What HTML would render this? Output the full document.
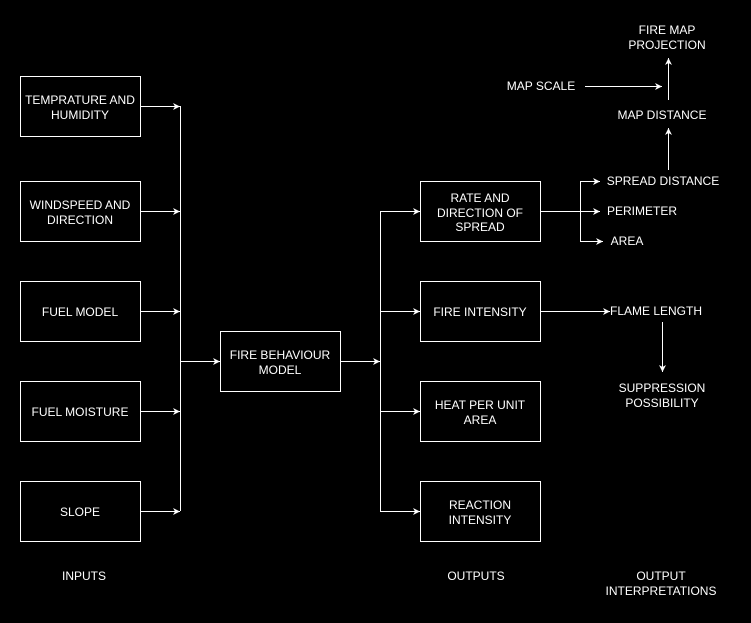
<!DOCTYPE html>
<html><head><meta charset="utf-8"><style>
html,body{margin:0;padding:0;background:#000;}
svg{display:block;}
text{font-family:"Liberation Sans",Arial,sans-serif;font-size:12px;fill:#fff;text-anchor:middle;}
</style></head><body>
<svg width="751" height="623" viewBox="0 0 751 623" xmlns="http://www.w3.org/2000/svg">
<defs>
<marker id="a" markerWidth="8" markerHeight="8" refX="7" refY="4" orient="auto" markerUnits="userSpaceOnUse">
<path d="M0,0.5 L7,4 L0,7.5 L2,4 Z" fill="#fff"/>
</marker>
</defs>
<g fill="none" stroke="#fff" stroke-width="1">
<rect x="20.5" y="76.5" width="120" height="60"/>
<rect x="20.5" y="181.5" width="120" height="60"/>
<rect x="20.5" y="281.5" width="120" height="60"/>
<rect x="20.5" y="381.5" width="120" height="60"/>
<rect x="20.5" y="481.5" width="120" height="60"/>
<rect x="220.5" y="331.5" width="120" height="60"/>
<rect x="420.5" y="181.5" width="120" height="60"/>
<rect x="420.5" y="281.5" width="120" height="60"/>
<rect x="420.5" y="381.5" width="120" height="60"/>
<rect x="420.5" y="481.5" width="120" height="60"/>
</g>
<g stroke="#fff" stroke-width="1" fill="none">
<path d="M180.5 106 V511"/>
<path d="M140 106.5 H180" marker-end="url(#a)"/>
<path d="M140 211.5 H180" marker-end="url(#a)"/>
<path d="M140 311.5 H180" marker-end="url(#a)"/>
<path d="M140 411.5 H180" marker-end="url(#a)"/>
<path d="M140 511.5 H180" marker-end="url(#a)"/>
<path d="M180 361.5 H220" marker-end="url(#a)"/>
<path d="M340 361.5 H380" marker-end="url(#a)"/>
<path d="M380.5 211 V511"/>
<path d="M380 211.5 H420" marker-end="url(#a)"/>
<path d="M380 311.5 H420" marker-end="url(#a)"/>
<path d="M380 411.5 H420" marker-end="url(#a)"/>
<path d="M380 511.5 H420" marker-end="url(#a)"/>
<path d="M540 211.5 H600" marker-end="url(#a)"/>
<path d="M580.5 181 V241"/>
<path d="M580 181.5 H600" marker-end="url(#a)"/>
<path d="M580 241.5 H603" marker-end="url(#a)"/>
<path d="M540 311.5 H610" marker-end="url(#a)"/>
<path d="M662.5 322 V372" marker-end="url(#a)"/>
<path d="M668.5 170 V128" marker-end="url(#a)"/>
<path d="M585 86.5 H662" marker-end="url(#a)"/>
<path d="M668.5 100 V58" marker-end="url(#a)"/>
</g>
<text x="80" y="104">TEMPRATURE AND</text><text x="80" y="119">HUMIDITY</text>
<text x="80" y="209">WINDSPEED AND</text><text x="80" y="224">DIRECTION</text>
<text x="80" y="316">FUEL MODEL</text>
<text x="80" y="416">FUEL MOISTURE</text>
<text x="80" y="516">SLOPE</text>
<text x="280" y="359">FIRE BEHAVIOUR</text><text x="280" y="374">MODEL</text>
<text x="480" y="202">RATE AND</text><text x="480" y="217">DIRECTION OF</text><text x="480" y="231">SPREAD</text>
<text x="480" y="316">FIRE INTENSITY</text>
<text x="480" y="409">HEAT PER UNIT</text><text x="480" y="424">AREA</text>
<text x="480" y="509">REACTION</text><text x="480" y="524">INTENSITY</text>
<text x="663" y="185">SPREAD DISTANCE</text>
<text x="642" y="215">PERIMETER</text>
<text x="627" y="245">AREA</text>
<text x="656" y="315">FLAME LENGTH</text>
<text x="662" y="392">SUPPRESSION</text><text x="662" y="407">POSSIBILITY</text>
<text x="662" y="119">MAP DISTANCE</text>
<text x="541" y="90">MAP SCALE</text>
<text x="667" y="34">FIRE MAP</text><text x="667" y="49">PROJECTION</text>
<text x="84" y="580">INPUTS</text>
<text x="476" y="580">OUTPUTS</text>
<text x="661" y="580">OUTPUT</text><text x="661" y="595">INTERPRETATIONS</text>
</svg>
</body></html>
